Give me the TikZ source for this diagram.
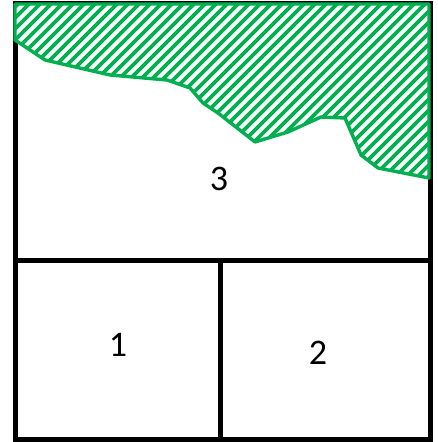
\documentclass[tikz,border=0pt]{standalone}
\usepackage{fontspec}
\setmainfont{Carlito}
\definecolor{offgreen}{RGB}{0,176,80}
\tikzset{
  frame/.style={draw=black,line width=5pt},
  hatchline/.style={draw=offgreen,line width=3.8pt},
  greenedge/.style={draw=offgreen,line width=3.4pt,line join=round},
  lbl/.style={font=\fontsize{36}{40}\selectfont,inner sep=0pt}
}
\def\greenregion{(15,4) -- (429,4) -- (429,178) -- (378,168) -- (361,155) -- (345,118)
  -- (321,117) -- (288,132) -- (255,142) -- (218,113) -- (203,103) -- (190,88)
  -- (167,80) -- (110,75) -- (45,60) -- (15,40) -- cycle}
\begin{document}
\begin{tikzpicture}[x=1pt,y=-1pt]
\useasboundingbox (0,0) rectangle (438,442);
\draw[frame] (15,3) rectangle (430,439);
\coordinate (ml) at (15,260);
\coordinate (mr) at (430,260);
\coordinate (mt) at (220,260);
\coordinate (mb) at (220,439);
\draw[frame] (ml) -- (mr);
\draw[frame] (mt) -- (mb);
\fill[white] \greenregion;
\begin{scope}
  \clip \greenregion;
  \foreach \c in {0,11,...,660} {
    \draw[hatchline] (\c-200,200) -- (\c,0);
  }
\end{scope}
\draw[greenedge] \greenregion;
\node[lbl] (n3) at (219,179) {3};
\node[lbl] (n1) at (118,345) {1};
\node[lbl] (n2) at (318,353) {2};
\end{tikzpicture}
\end{document}
